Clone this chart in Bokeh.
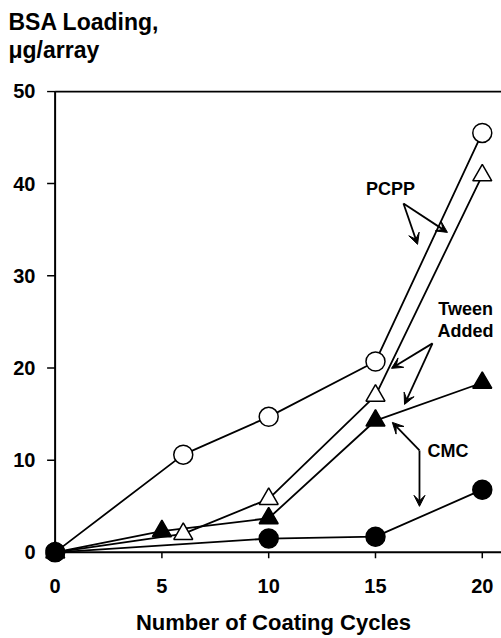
from bokeh.plotting import figure
from bokeh.models import (Range1d, FixedTicker, Label, Arrow, VeeHead, Title)
from bokeh.embed import file_html
from bokeh.resources import INLINE

# ---- data ----
x_pcpp = [0, 6, 10, 15, 20]
y_pcpp = [0, 10.6, 14.7, 20.7, 45.5]

x_pcpp_tween = [0, 6, 10, 15, 20]
y_pcpp_tween = [0, 2.0, 5.8, 17.0, 40.9]

x_cmc_tween = [0, 5, 10, 15, 20]
y_cmc_tween = [0, 2.3, 3.7, 14.3, 18.4]

x_cmc = [0, 10, 15, 20]
y_cmc = [0, 1.5, 1.7, 6.8]

x_ticks = [0, 5, 10, 15, 20]
y_ticks = [0, 10, 20, 30, 40, 50]

FONT = "Liberation Sans"

p = figure(width=501, height=638, output_backend="svg", toolbar_location=None,
           x_range=Range1d(-0.45, 20.9), y_range=Range1d(-1.1, 50.1),
           min_border_left=45, min_border_right=0, min_border_top=90, min_border_bottom=76,
           background_fill_color="white", border_fill_color="white")
p.outline_line_color = None
p.xgrid.visible = False
p.ygrid.visible = False

for ax, ticks, standoff in ((p.xaxis[0], x_ticks, 16), (p.yaxis[0], y_ticks, 10)):
    ax.ticker = FixedTicker(ticks=ticks)
    ax.axis_line_color = None
    ax.major_tick_line_color = None
    ax.minor_tick_line_color = None
    ax.major_tick_in = 0
    ax.major_tick_out = 0
    ax.major_label_standoff = standoff
    ax.major_label_text_font = FONT
    ax.major_label_text_font_style = "bold"
    ax.major_label_text_font_size = "20px"
    ax.major_label_text_color = "black"

xax = p.xaxis[0]
xax.axis_label = "Number of Coating Cycles"
xax.axis_label_text_font = FONT
xax.axis_label_text_font_style = "bold"
xax.axis_label_text_font_size = "22px"
xax.axis_label_text_color = "black"
xax.axis_label_standoff = 14

# spacer between frame and the two-line y title
p.add_layout(Title(text=" ", text_font=FONT, text_font_size="23px", standoff=0), "above")
p.add_layout(Title(text="\u03bcg/array", align="left", offset=-37, text_font=FONT,
                   text_font_style="bold", text_font_size="23px", text_color="black",
                   standoff=0), "above")
p.add_layout(Title(text="BSA Loading,", align="left", offset=-37, text_font=FONT,
                   text_font_style="bold", text_font_size="23px", text_color="black",
                   standoff=0), "above")

# axis lines and ticks drawn at the data origin
xt = [t for t in x_ticks if t > 0]
p.segment(x0=xt, y0=[0] * len(xt), x1=xt, y1=[-0.65] * len(xt), line_color="black", line_width=1.5)
p.segment(x0=[0] * len(y_ticks), y0=y_ticks, x1=[-0.375] * len(y_ticks), y1=y_ticks,
          line_color="black", line_width=1.5)
p.segment(x0=[-0.375], y0=[0], x1=[20.9], y1=[0], line_color="black", line_width=2)
p.segment(x0=[0], y0=[0], x1=[0], y1=[50], line_color="black", line_width=2)
p.segment(x0=[0], y0=[50], x1=[20.9], y1=[50], line_color="black", line_width=2)

LW = 1.8
p.line(x_pcpp, y_pcpp, line_color="black", line_width=LW)
p.line(x_pcpp_tween, y_pcpp_tween, line_color="black", line_width=LW)
p.line(x_cmc_tween, y_cmc_tween, line_color="black", line_width=LW)
p.line(x_cmc, y_cmc, line_color="black", line_width=LW)

p.scatter(x_pcpp, y_pcpp, marker="circle", size=19, fill_color="white", line_color="black", line_width=1.5)
p.scatter(x_pcpp_tween, y_pcpp_tween, marker="triangle", size=19, fill_color="white", line_color="black", line_width=1.5)
p.scatter(x_cmc_tween, y_cmc_tween, marker="triangle", size=19, fill_color="black", line_color="black", line_width=1.5)
p.scatter(x_cmc, y_cmc, marker="circle", size=19, fill_color="black", line_color="black", line_width=1.5)

# annotation arrows (start -> end)
arrows = [
    (16.31, 37.85, 16.97, 33.41),
    (16.31, 37.85, 18.37, 34.71),
    (17.67, 22.67, 15.75, 19.96),
    (17.67, 22.67, 16.36, 16.05),
    (17.06, 11.06, 15.79, 14.10),
    (17.06, 11.06, 17.06, 4.99),
]
for xs, ys, xe, ye in arrows:
    p.add_layout(Arrow(x_start=xs, y_start=ys, x_end=xe, y_end=ye, line_width=1.8, line_color="black",
                       end=VeeHead(size=11, fill_color="black", line_color="black", line_width=1)))

def lab(x, y, text, size, align="center", baseline="middle"):
    p.add_layout(Label(x=x, y=y, text=text, text_font=FONT, text_font_style="bold",
                       text_font_size=size, text_align=align, text_baseline=baseline,
                       text_color="black"))

lab(15.70, 39.37, "PCPP", "18px")
lab(19.22, 26.36, "Tween", "18px")
lab(19.22, 23.97, "Added", "18px")
lab(18.39, 10.95, "CMC", "18px")

open("out.html", "w").write(file_html(p, INLINE))
